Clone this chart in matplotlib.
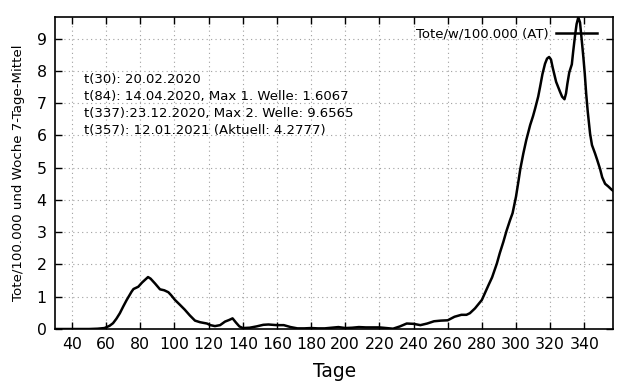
import numpy as np
import matplotlib
matplotlib.use('Agg')
from matplotlib import pyplot as plt

# Tage seit Beginn und Tote/Woche/100.000 (7-Tage-Mittel)
tage = [30, 40, 50, 55, 59, 62, 64, 66, 68, 70, 72, 74.9, 76, 78.8, 81, 84.5,
        86, 88.6, 91.5, 94, 96.4, 98, 100.3, 103, 106, 109, 112, 115, 119,
        121, 123.7, 126.7, 129.6, 132, 134, 136, 138, 140, 144, 148, 152,
        155, 160, 164, 168, 172, 176, 180, 184, 188, 192, 196, 200, 204,
        208, 212, 216, 220, 224, 228, 232, 236, 240, 244, 248, 252, 256,
        260, 264, 268, 271, 273, 276, 280, 283.9, 286, 288.8, 290.5, 292.6,
        294.5, 296.5, 298, 300, 301.5, 302.5, 304.3, 306, 308.3, 310, 311.2,
        313, 314.1, 315.5, 317, 318.2, 319.4, 320.5, 321.5, 323.5, 325.8,
        327, 328.4, 329.3, 330.1, 331.2, 332.7, 333.5, 334.6, 335.5, 336.5,
        337.5, 338.6, 339.5, 340.3, 341.1, 342, 343.4, 344.5, 346.3, 347.5,
        349.3, 350.5, 352.2, 354, 356, 357]
tote = [0, 0, 0, 0.01, 0.03, 0.1, 0.18, 0.32, 0.49, 0.7, 0.9, 1.16, 1.24,
        1.31, 1.44, 1.61, 1.56, 1.41, 1.23, 1.2, 1.14, 1.05, 0.9, 0.76, 0.6,
        0.42, 0.26, 0.21, 0.17, 0.12, 0.09, 0.12, 0.23, 0.28, 0.33, 0.2,
        0.08, 0.03, 0.04, 0.08, 0.13, 0.14, 0.12, 0.12, 0.06, 0.02, 0.02,
        0.03, 0.02, 0.02, 0.04, 0.06, 0.03, 0.04, 0.06, 0.05, 0.05, 0.05,
        0.03, 0.01, 0.08, 0.17, 0.16, 0.12, 0.17, 0.24, 0.26, 0.27, 0.38,
        0.44, 0.44, 0.49, 0.64, 0.9, 1.36, 1.6, 2.03, 2.35, 2.7, 3.05, 3.37,
        3.59, 4.1, 4.6, 4.95, 5.44, 5.85, 6.32, 6.6, 6.83, 7.2, 7.5, 7.9,
        8.22, 8.38, 8.43, 8.35, 8.1, 7.66, 7.35, 7.2, 7.12, 7.3, 7.6, 7.95,
        8.2, 8.6, 9.1, 9.45, 9.6565, 9.5, 8.9, 8.4, 7.9, 7.3, 6.75, 6.05,
        5.7, 5.44, 5.25, 4.95, 4.7, 4.5, 4.42, 4.32, 4.2777]

xticks = [40, 60, 80, 100, 120, 140, 160, 180, 200, 220, 240, 260, 280, 300, 320, 340]
yticks = [0, 1, 2, 3, 4, 5, 6, 7, 8, 9]

info = ['t(30): 20.02.2020',
        't(84): 14.04.2020, Max 1. Welle: 1.6067',
        't(337):23.12.2020, Max 2. Welle: 9.6565',
        't(357): 12.01.2021 (Aktuell: 4.2777)']

fig = plt.figure(figsize=(6.4, 3.84), dpi=100)
ax = fig.add_axes([0.0859, 0.1432, 0.8724, 0.8118])

ax.plot(tage, tote, color='black', lw=1.8, label='Tote/w/100.000 (AT)')

ax.set_xlim(30, 357)
ax.set_ylim(0, 9.66)
ax.set_xticks(xticks)
ax.set_yticks(yticks)
ax.tick_params(direction='in', top=True, right=True, length=5, width=1,
               labelsize=11.3)
ax.tick_params(axis='x', pad=6)
ax.tick_params(axis='y', pad=6)
ax.grid(True, linestyle=(0, (1, 3)), color='#a0a0a0', lw=0.8)
for s in ax.spines.values():
    s.set_linewidth(1.2)

ax.set_xlabel('Tage', fontsize=13.4, labelpad=7)
ax.set_ylabel('Tote/100.000 und Woche 7-Tage-Mittel', fontsize=9.6, labelpad=8)

# Infotext links oben
for i, line in enumerate(info):
    ax.text(0.052, 0.799 - i * 0.0545, line, transform=ax.transAxes,
            fontsize=9.5, va='center', ha='left')

ax.legend(loc='center right', bbox_to_anchor=(0.970, 0.9455), frameon=False,
          markerfirst=False, fontsize=9.5, borderpad=0, borderaxespad=0,
          handlelength=3.1, handletextpad=0.55)

fig.savefig('out.png', dpi=100)
